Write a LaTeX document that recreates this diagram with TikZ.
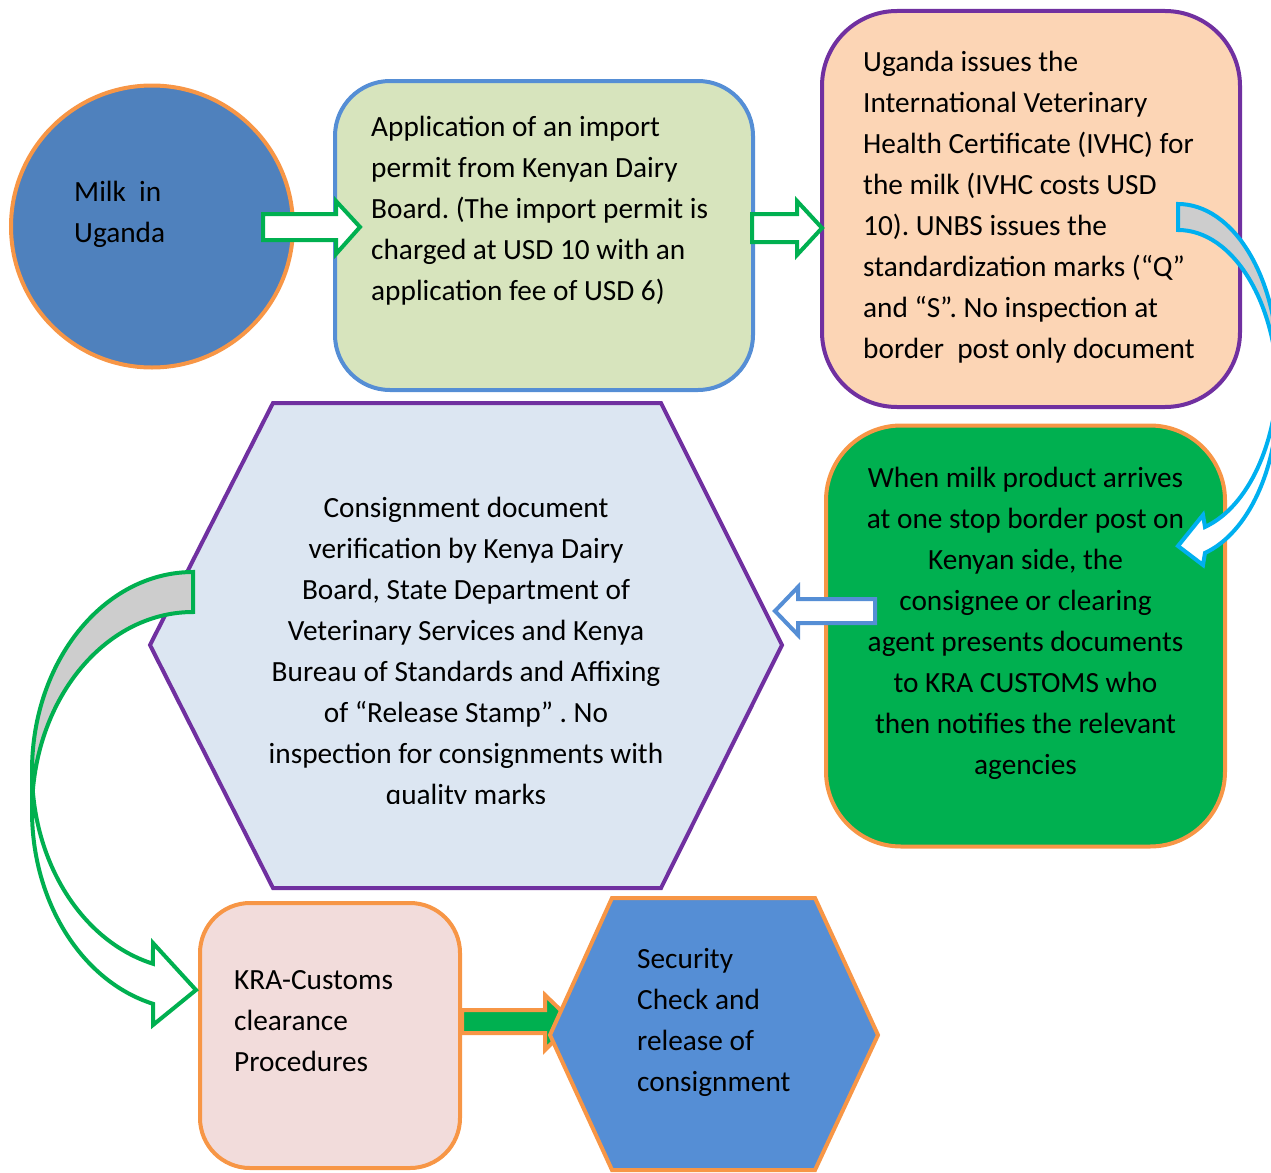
\documentclass[tikz,border=0pt]{standalone}
\usepackage{fontspec}
\setmainfont{Carlito}
\frenchspacing
\definecolor{offorange}{HTML}{F79646}
\definecolor{offblue}{HTML}{4F81BD}
\definecolor{midblue}{HTML}{558ED5}
\definecolor{appfill}{HTML}{D7E4BD}
\definecolor{peach}{HTML}{FCD5B5}
\definecolor{purp}{HTML}{7030A0}
\definecolor{brightgreen}{HTML}{00B050}
\definecolor{hexfill}{HTML}{DCE6F2}
\definecolor{pinkfill}{HTML}{F2DCDB}
\definecolor{cyanline}{HTML}{00B0F0}
\definecolor{backgray}{HTML}{CDCDCD}
\begin{document}
\begin{tikzpicture}[x=1pt,y=-1pt,
  box/.style={draw, line width=4pt, inner sep=0pt, rectangle},
  txt/.style={inner sep=0pt, font=\fontsize{29.3}{41}\selectfont\frenchspacing,
    execute at begin node=\strut, execute at end node=\strut},
  blockarrow/.style={line width=4pt, fill=white, draw=brightgreen},
  curvearrow/.style={line width=4pt},
]
\useasboundingbox (0,0) rectangle (1271,1172);

% ---------- boxes ----------
\node[box, circle, draw=offorange, fill=offblue, minimum size=282pt] (milk) at (152,226.5) {};
\node[box, draw=midblue, fill=appfill, rounded corners=55pt,
      minimum width=418pt, minimum height=309pt] (app) at (544,235.5) {};
\node[box, draw=purp, fill=peach, rounded corners=75pt,
      minimum width=418pt, minimum height=396pt] (uganda) at (1031,209) {};
\node[box, draw=offorange, fill=brightgreen, rounded corners=75pt,
      minimum width=399pt, minimum height=421pt] (arrive) at (1025.5,636) {};
\node[box, draw=offorange, fill=pinkfill, rounded corners=50pt,
      minimum width=260pt, minimum height=265pt] (kra) at (330,1035.5) {};
\coordinate (hexc) at (466,645);
\draw[line width=4pt, draw=purp, fill=hexfill]
  (273,403) -- (661,403) -- (782,645) -- (661,888) -- (273,888) -- (150,645) -- cycle;

% ---------- texts ----------
\node[txt, anchor=west, align=left] (milktxt) at (74,217.5) {Milk\ \ in\\Uganda};
\node[txt, anchor=west, align=left] (apptxt) at (371,214.5)
  {Application of an import\\permit from Kenyan Dairy\\Board. (The import permit is\\charged at USD 10 with an\\application fee of USD 6)};
\begin{scope}
\clip (822,11) rectangle (1240,377);
\node[txt, anchor=west, align=left] (ugtxt) at (863,231)
  {Uganda issues the\\International Veterinary\\Health Certificate (IVHC) for\\the milk (IVHC costs USD\\10). UNBS issues the\\standardization marks (“Q”\\and “S”. No inspection at\\border\ \ post only document\\verification};
\end{scope}
\node[txt, anchor=center, align=center] (arrtxt) at (1025.5,626.5)
  {When milk product arrives\\at one stop border post on\\Kenyan side, the\\consignee or clearing\\agent presents documents\\to KRA CUSTOMS who\\then notifies the relevant\\agencies};
\begin{scope}
\clip (150,403) rectangle (782,803);
\node[txt, anchor=center, align=center] (hextxt) at (466,656.5)
  {Consignment document\\verification by Kenya Dairy\\Board, State Department of\\Veterinary Services and Kenya\\Bureau of Standards and Affixing\\of “Release Stamp” . No\\inspection for consignments with\\quality marks};
\end{scope}
\node[txt, anchor=west, align=left] (kratxt) at (234,1027.5) {KRA-Customs\\clearance\\Procedures};

% ---------- straight block arrows ----------
\draw[blockarrow] (263,214) -- (336,214) -- (336,201) -- (360,227) -- (336,254) -- (336,240) -- (263,240) -- cycle;
\draw[blockarrow] (752,214) -- (797,214) -- (797,201) -- (822,228) -- (797,255) -- (797,242) -- (752,242) -- cycle;
\draw[blockarrow, draw=midblue] (875,599) -- (798,599) -- (798,587) -- (775,611) -- (798,635) -- (798,623) -- (875,623) -- cycle;
\draw[blockarrow, draw=offorange, fill=brightgreen] (462,1010) -- (545,1010) -- (545,995) -- (573,1022) -- (545,1050) -- (545,1033) -- (462,1033) -- cycle;

% ---------- security hexagon ----------
\draw[line width=4pt, draw=offorange, fill=midblue]
  (612,898) -- (815,898) -- (878,1035) -- (815,1170) -- (612,1170) -- (550,1035) -- cycle;
\node[txt, anchor=west, align=left] (sectxt) at (637,1026) {Security\\Check and\\release of\\consignment};

% ---------- curved arrow right (blue) ----------
\draw[curvearrow, draw=cyanline, fill=backgray]
  (1178,204) arc[start angle=-90, end angle=0, x radius=100, y radius=164.5]
  -- (1278,394.5) arc[start angle=0, end angle=-90, x radius=100, y radius=164.5] -- cycle;
\draw[curvearrow, draw=cyanline, fill=white]
  (1278,368.5) arc[start angle=0, end angle=74.34, x radius=100, y radius=164.5]
  -- (1203,515) -- (1178,546) -- (1203,565) -- (1205,552.9)
  arc[start angle=74.34, end angle=0, x radius=100, y radius=164.5] -- cycle;

% ---------- curved arrow left (green) ----------
\draw[curvearrow, draw=brightgreen, fill=backgray]
  (193,572) arc[start angle=-90, end angle=-180, x radius=161, y radius=199]
  -- (32,811) arc[start angle=180, end angle=270, x radius=161, y radius=199] -- cycle;
\draw[curvearrow, draw=brightgreen, fill=white]
  (32,771) arc[start angle=180, end angle=104.39, x radius=161, y radius=199]
  -- (153,943) -- (196,990) -- (153,1025) -- (153,1003.8)
  arc[start angle=104.39, end angle=180, x radius=161, y radius=199] -- cycle;
\end{tikzpicture}
\end{document}
